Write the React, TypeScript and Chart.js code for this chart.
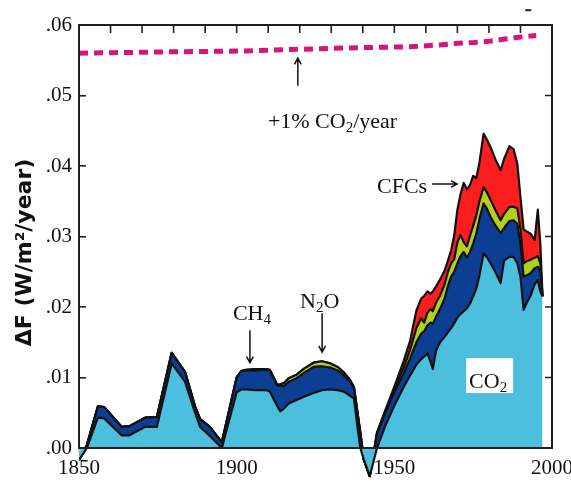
import React, { useEffect, useRef } from 'react';
import { Chart, registerables } from 'chart.js';

Chart.register(...registerables);

// ---- data ----
const YEARS = [
  1850, 1852.5, 1856, 1858, 1863.5, 1866, 1871, 1874.7, 1879.4, 1883.6,
  1886.8, 1888.4, 1891.5, 1895.3, 1900, 1901.5, 1903, 1906, 1909.5, 1910.5,
  1912.8, 1913.8, 1915, 1916.5, 1919, 1921.5, 1924.4, 1927, 1929.7, 1932,
  1934, 1936, 1937.2, 1938.3, 1939.2, 1940.3, 1942.2, 1944.5, 1947, 1950,
  1953, 1955, 1957, 1958.5, 1959.5, 1960.5, 1961.5, 1962.2, 1963.2, 1964.5,
  1966, 1967, 1968, 1969, 1970, 1971, 1972, 1973, 1974, 1975,
  1976, 1977, 1978.3, 1979.3, 1980.5, 1982, 1983.7, 1984.8, 1986.5, 1987.8,
  1989, 1990, 1991, 1992, 1993.2, 1994.5, 1995.5, 1996.3, 1997,
];

const CO2 = [
  -0.0017, 0, 0.0043, 0.0042, 0.0018, 0.0018, 0.003, 0.003, 0.012, 0.0094,
  0.005, 0.003, 0.0017, 0, 0.0079, 0.0083, 0.0083, 0.0082, 0.0082, 0.008,
  0.006, 0.0052, 0.0056, 0.0063, 0.0068, 0.0073, 0.0078, 0.0082, 0.0083, 0.0082,
  0.008, 0.0074, 0.007, 0.003, 0, -0.0016, -0.004, 0, 0.003, 0.006,
  0.0087, 0.0103, 0.0118, 0.0126, 0.013, 0.0134, 0.0122, 0.0112, 0.0138, 0.015,
  0.0158, 0.0164, 0.017, 0.0177, 0.0185, 0.019, 0.0194, 0.0198, 0.0205, 0.0215,
  0.0226, 0.0245, 0.0276, 0.0271, 0.0262, 0.025, 0.0234, 0.0266, 0.0271, 0.0271,
  0.0262, 0.0243, 0.0196, 0.0206, 0.0216, 0.0232, 0.0238, 0.0222, 0.0215,
];

const CH4 = [
  0, 0.0004, 0.0016, 0.0016, 0.0012, 0.0013, 0.0013, 0.0014, 0.0015, 0.0014,
  0.0009, 0.0011, 0.0013, 0.0008, 0.0021, 0.0026, 0.0027, 0.0028, 0.0029, 0.003,
  0.0029, 0.0036, 0.0032, 0.0031, 0.0031, 0.0034, 0.0037, 0.0034, 0.0031, 0.0028,
  0.0023, 0.002, 0.0015, 0.002, 0.0022, 0, 0, 0.002, 0.0018, 0.0019,
  0.0019, 0.0024, 0.0032, 0.0036, 0.0036, 0.004, 0.0056, 0.0064, 0.0048, 0.0047,
  0.0055, 0.0066, 0.0073, 0.0073, 0.0077, 0.0082, 0.0084, 0.0072, 0.0073, 0.0075,
  0.0078, 0.008, 0.0071, 0.0069, 0.0066, 0.0066, 0.0071, 0.0046, 0.0051, 0.0052,
  0.0056, 0.0047, 0.0047, 0.0039, 0.0032, 0.0023, 0.0019, 0.0028, 0,
];

const N2O = [
  0, 0, 0, 0, 0, 0, 0, 0, 0, 0,
  0, 0, 0, 0, 0, 0, 0.0001, 0.0002, 0.0001, 0.0001,
  0.0001, 0.0002, 0.0004, 0.0005, 0.0005, 0.0006, 0.0006, 0.0007, 0.0006, 0.0005,
  0.0004, 0.0002, 0.0001, 0.0001, 0, 0, 0, 0.0001, 0.0002, 0.0004,
  0.0008, 0.0012, 0.002, 0.0022, 0.0012, 0.0018, 0.0019, 0.0018, 0.002, 0.0019,
  0.002, 0.002, 0.0019, 0.0018, 0.003, 0.003, 0.0014, 0.0016, 0.0023, 0.0025,
  0.0026, 0.0025, 0.0023, 0.0023, 0.0024, 0.0022, 0.0018, 0.002, 0.002, 0.0019,
  0.0022, 0.002, 0.0019, 0.002, 0.0019, 0.0015, 0.0015, 0.0012, 0,
];

const CFCS = [
  0, 0, 0, 0, 0, 0, 0, 0, 0, 0,
  0, 0, 0, 0, 0, 0, 0, 0, 0, 0,
  0, 0, 0, 0, 0, 0, 0, 0, 0, 0,
  0, 0, 0, 0, 0, 0, 0, 0.0001, 0.0002, 0.0004,
  0.001, 0.0013, 0.0025, 0.0028, 0.0038, 0.003, 0.0022, 0.0028, 0.0023, 0.0023,
  0.0019, 0.0016, 0.0018, 0.0034, 0.0046, 0.0058, 0.0084, 0.0081, 0.0072, 0.0071,
  0.0053, 0.0055, 0.0076, 0.0075, 0.0075, 0.0072, 0.0071, 0.0078, 0.0086, 0.0082,
  0.0063, 0.0046, 0.0048, 0.0042, 0.0037, 0.0025, 0.0066, 0.0028, 0,
];

const REF_YEARS = [1850, 1880, 1900, 1920, 1940, 1955, 1965, 1970, 1975, 1980, 1985, 1990, 1995];
const REF_VALUES = [0.056, 0.0562, 0.0563, 0.05655, 0.0568, 0.0569, 0.0572, 0.0574, 0.0575, 0.0577, 0.058, 0.0583, 0.0585];

const X_TICKS = [1850, 1900, 1950, 2000];
const Y_TICKS = [0, 0.01, 0.02, 0.03, 0.04, 0.05, 0.06];
const TOP_TICK_YEARS = [1860, 1870, 1880, 1890, 1900, 1910, 1920, 1930, 1940, 1950, 1960, 1970, 1980, 1990];
const RIGHT_TICK_VALUES = [0.01, 0.02, 0.03, 0.04, 0.05];

// ---- styles ----
const SERIF = "'Liberation Serif', 'Times New Roman', serif";
const C_CO2 = '#4cbfdf';
const C_CH4 = '#0c3e94';
const C_N2O = '#b3d11b';
const C_CFC = '#fc1d1f';
const C_REF = '#d6137f';
const INK = '#111111';
const FRAME = '#231f20';

type Seg = { t: string; sub?: boolean };
const LABELS: { segs: Seg[]; year: number; value: number; box?: boolean }[] = [
  { segs: [{ t: '+1% CO' }, { t: '2', sub: true }, { t: '/year' }], year: 1909.9, value: 0.0454 },
  { segs: [{ t: 'CFCs' }], year: 1944.5, value: 0.0362 },
  { segs: [{ t: 'CH' }, { t: '4', sub: true }], year: 1898.8, value: 0.0182 },
  { segs: [{ t: 'N' }, { t: '2', sub: true }, { t: 'O' }], year: 1920.1, value: 0.0199 },
  { segs: [{ t: 'CO' }, { t: '2', sub: true }], year: 1973.7, value: 0.0085, box: true },
];
const ARROWS = [
  { from: [1919.4, 0.0514], to: [1919.4, 0.0553] },
  { from: [1962.0, 0.03745], to: [1969.9, 0.03745] },
  { from: [1904.2, 0.0167], to: [1904.2, 0.0121] },
  { from: [1927.1, 0.0191], to: [1927.1, 0.0136] },
];

function drawRich(ctx: CanvasRenderingContext2D, segs: Seg[], x: number, y: number, size: number) {
  let cx = x;
  for (const s of segs) {
    const fs = s.sub ? Math.round(size * 0.68) : size;
    ctx.font = `${fs}px ${SERIF}`;
    ctx.fillText(s.t, cx, s.sub ? y + size * 0.2 : y);
    cx += ctx.measureText(s.t).width;
  }
  return cx - x;
}

function measureRich(ctx: CanvasRenderingContext2D, segs: Seg[], size: number) {
  let w = 0;
  for (const s of segs) {
    const fs = s.sub ? Math.round(size * 0.68) : size;
    ctx.font = `${fs}px ${SERIF}`;
    w += ctx.measureText(s.t).width;
  }
  return w;
}

const decorPlugin = {
  id: 'decor',
  afterDraw(chart: any) {
    const ctx: CanvasRenderingContext2D = chart.ctx;
    const xs = chart.scales.x;
    const ys = chart.scales.y;
    const px = (v: number) => xs.getPixelForValue(v);
    const py = (v: number) => ys.getPixelForValue(v);
    const left = px(1850);
    const right = px(2000);
    const top = py(0.06);
    const bottom = py(0);
    ctx.save();
    ctx.strokeStyle = FRAME;
    ctx.lineWidth = 2;
    ctx.beginPath();
    ctx.moveTo(left, bottom + 1);
    ctx.lineTo(left, top);
    ctx.lineTo(right, top);
    ctx.lineTo(right, bottom + 1);
    ctx.stroke();

    ctx.lineWidth = 1.6;
    ctx.beginPath();
    for (const yr of TOP_TICK_YEARS) {
      ctx.moveTo(px(yr), top);
      ctx.lineTo(px(yr), top + 8);
    }
    for (const v of RIGHT_TICK_VALUES) {
      ctx.moveTo(right, py(v));
      ctx.lineTo(right - 7, py(v));
    }
    ctx.stroke();

    // small mark above the frame
    ctx.lineWidth = 2;
    ctx.beginPath();
    ctx.moveTo(px(1991.5), py(0.0621));
    ctx.lineTo(px(1993.4), py(0.0621));
    ctx.stroke();

    // arrows
    ctx.strokeStyle = INK;
    ctx.lineWidth = 1.5;
    for (const a of ARROWS) {
      const x1 = px(a.from[0]), y1 = py(a.from[1]);
      const x2 = px(a.to[0]), y2 = py(a.to[1]);
      const ang = Math.atan2(y2 - y1, x2 - x1);
      const h = 7;
      ctx.beginPath();
      ctx.moveTo(x1, y1);
      ctx.lineTo(x2, y2);
      ctx.moveTo(x2 - h * Math.cos(ang - 0.5), y2 - h * Math.sin(ang - 0.5));
      ctx.lineTo(x2, y2);
      ctx.lineTo(x2 - h * Math.cos(ang + 0.5), y2 - h * Math.sin(ang + 0.5));
      ctx.stroke();
    }

    // labels
    ctx.textAlign = 'left';
    ctx.textBaseline = 'alphabetic';
    const size = 22;
    for (const l of LABELS) {
      const x = px(l.year);
      const y = py(l.value);
      if (l.box) {
        const w = measureRich(ctx, l.segs, size);
        ctx.fillStyle = '#ffffff';
        ctx.fillRect(x - 3, y - 30, w + 9, 35);
      }
      ctx.fillStyle = INK;
      drawRich(ctx, l.segs, x, y, size);
    }
    ctx.restore();
  },
};

const pts = (vals: number[]) => YEARS.map((x, i) => ({ x, y: vals[i] }));

export default function App() {
  const ref = useRef<HTMLCanvasElement | null>(null);

  useEffect(() => {
    document.body.style.margin = '0';
    const canvas = ref.current;
    if (!canvas) return;
    const lineCommon = {
      borderColor: INK,
      borderWidth: 2.2,
      pointRadius: 0,
      tension: 0,
      borderJoinStyle: 'round' as const,
    };
    const chart = new Chart(canvas, {
      type: 'line',
      data: {
        datasets: [
          { label: 'CO2', data: pts(CO2), backgroundColor: C_CO2, fill: 'origin', ...lineCommon },
          { label: 'CH4', data: pts(CH4), backgroundColor: C_CH4, fill: '-1', ...lineCommon },
          { label: 'N2O', data: pts(N2O), backgroundColor: C_N2O, fill: '-1', ...lineCommon },
          { label: 'CFCs', data: pts(CFCS), backgroundColor: C_CFC, fill: '-1', ...lineCommon },
          {
            label: '+1% CO2/year',
            data: REF_YEARS.map((x, i) => ({ x, y: REF_VALUES[i] })),
            stack: 'ref',
            fill: false,
            borderColor: C_REF,
            borderWidth: 5,
            borderDash: [9, 6],
            borderCapStyle: 'butt',
            pointRadius: 0,
            tension: 0,
          } as any,
        ],
      },
      options: {
        responsive: false,
        animation: false,
        events: [],
        layout: { padding: { left: 0, right: 19, top: 25, bottom: 4 } },
        plugins: { legend: { display: false }, tooltip: { enabled: false } },
        scales: {
          x: {
            type: 'linear',
            position: { y: 0 } as any,
            min: 1850,
            max: 2000,
            afterBuildTicks: (s: any) => {
              s.ticks = X_TICKS.map((v) => ({ value: v }));
            },
            afterFit: (s: any) => {
              s.height = 0;
              s.paddingLeft = 0;
              s.paddingRight = 0;
            },
            grid: { display: true, drawOnChartArea: false, drawTicks: false },
            border: { display: true, color: FRAME, width: 2, z: 1 },
            ticks: {
              z: 1,
              autoSkip: false,
              maxRotation: 0,
              padding: 8,
              color: INK,
              font: { family: SERIF, size: 21 },
              callback: (v: any) => String(v),
            },
          },
          y: {
            type: 'linear',
            position: 'left',
            stacked: true,
            min: -0.00454,
            max: 0.06,
            afterBuildTicks: (s: any) => {
              s.ticks = Y_TICKS.map((v) => ({ value: v }));
            },
            afterFit: (s: any) => {
              s.width = 79;
              s.paddingTop = 0;
              s.paddingBottom = 0;
            },
            grid: {
              display: true,
              drawOnChartArea: false,
              drawTicks: true,
              tickLength: -7,
              color: FRAME,
              lineWidth: 1.6,
              z: 1,
            },
            border: { display: false },
            ticks: {
              z: 1,
              padding: 14,
              color: INK,
              font: { family: SERIF, size: 21 },
              callback: (v: any) => '.' + String(Math.round(Number(v) * 100)).padStart(2, '0'),
            },
            title: {
              display: true,
              text: 'ΔF (W/m²/year)',
              color: INK,
              font: { family: "'DejaVu Sans', sans-serif", size: 22, weight: 'bold' },
              padding: { top: 12.5, bottom: 0 },
            },
          },
        },
      },
      plugins: [decorPlugin],
    } as any);
    return () => chart.destroy();
  }, []);

  return (
    <div style={{ width: 571, height: 484 }}>
      <canvas ref={ref} width={571} height={484} style={{ display: 'block' }} />
    </div>
  );
}
